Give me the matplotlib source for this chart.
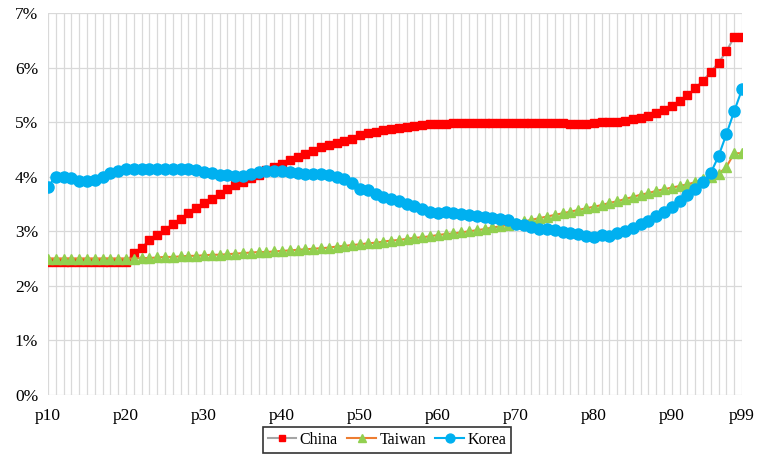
import numpy as np
import matplotlib.pyplot as plt
from matplotlib.ticker import FuncFormatter, MultipleLocator

plt.rcParams['font.family'] = ['Liberation Serif', 'DejaVu Serif']

# percentiles p10..p99
pct = np.arange(10, 100)
xticks = [10, 20, 30, 40, 50, 60, 70, 80, 90, 99]

china = [2.43, 2.43, 2.43, 2.43, 2.43, 2.43, 2.43, 2.43, 2.43, 2.43,
         2.43, 2.60, 2.70, 2.84, 2.93, 3.03, 3.13, 3.23, 3.33, 3.42,
         3.51, 3.60, 3.68, 3.77, 3.85, 3.91, 3.97, 4.04, 4.12, 4.18,
         4.24, 4.30, 4.36, 4.41, 4.47, 4.54, 4.58, 4.61, 4.66, 4.70,
         4.76, 4.80, 4.82, 4.85, 4.87, 4.90, 4.91, 4.93, 4.95, 4.96,
         4.97, 4.97, 4.98, 4.98, 4.99, 4.99, 4.99, 4.99, 4.99, 4.99,
         4.99, 4.99, 4.99, 4.99, 4.99, 4.99, 4.99, 4.97, 4.97, 4.97,
         4.98, 5.00, 5.00, 5.01, 5.02, 5.05, 5.08, 5.11, 5.16, 5.23,
         5.30, 5.39, 5.49, 5.62, 5.76, 5.92, 6.09, 6.30, 6.56, 6.56]

taiwan = [2.50, 2.50, 2.50, 2.50, 2.50, 2.50, 2.50, 2.50, 2.50, 2.50,
          2.50, 2.50, 2.51, 2.51, 2.52, 2.53, 2.53, 2.54, 2.55, 2.55,
          2.56, 2.57, 2.57, 2.58, 2.59, 2.60, 2.61, 2.62, 2.62, 2.63,
          2.64, 2.65, 2.66, 2.67, 2.68, 2.69, 2.70, 2.72, 2.73, 2.75,
          2.76, 2.78, 2.79, 2.81, 2.83, 2.84, 2.86, 2.88, 2.89, 2.91,
          2.93, 2.95, 2.96, 2.98, 3.00, 3.02, 3.04, 3.07, 3.09, 3.12,
          3.15, 3.18, 3.21, 3.24, 3.27, 3.30, 3.33, 3.36, 3.39, 3.42,
          3.45, 3.48, 3.52, 3.55, 3.59, 3.63, 3.67, 3.70, 3.74, 3.77,
          3.80, 3.83, 3.86, 3.90, 3.95, 4.00, 4.05, 4.18, 4.43, 4.43]

korea = [3.82, 4.00, 3.99, 3.97, 3.93, 3.92, 3.94, 4.00, 4.07, 4.11,
         4.15, 4.15, 4.14, 4.14, 4.14, 4.14, 4.14, 4.15, 4.14, 4.12,
         4.09, 4.06, 4.04, 4.03, 4.01, 4.01, 4.05, 4.08, 4.10, 4.10,
         4.10, 4.08, 4.06, 4.05, 4.05, 4.05, 4.03, 4.00, 3.95, 3.88,
         3.78, 3.75, 3.69, 3.63, 3.60, 3.55, 3.50, 3.46, 3.40, 3.36,
         3.34, 3.35, 3.34, 3.32, 3.30, 3.28, 3.27, 3.25, 3.22, 3.20,
         3.14, 3.11, 3.08, 3.04, 3.04, 3.02, 2.99, 2.97, 2.95, 2.92,
         2.90, 2.93, 2.92, 2.96, 3.01, 3.06, 3.13, 3.19, 3.28, 3.36,
         3.45, 3.55, 3.67, 3.77, 3.90, 4.07, 4.38, 4.78, 5.20, 5.60]

fig = plt.figure(figsize=(7.57, 4.57), dpi=100)
ax = fig.add_axes([48/757, 62/457, 694/757, 382/457])

ax.plot(pct, china, color='#a5a5a5', lw=1.5, marker='s', ms=6,
        mfc='#ff0000', mec='#ff0000', label='China', zorder=3)
ax.plot(pct, taiwan, color='#ed7d31', lw=1.5, marker='^', ms=7,
        mfc='#92d050', mec='#92d050', label='Taiwan', zorder=4)
ax.plot(pct, korea, color='#00b0f0', lw=1.5, marker='o', ms=8,
        mfc='#00b0f0', mec='#00b0f0', label='Korea', zorder=5)

ax.set_xlim(10, 99)
ax.set_ylim(0, 7)
ax.yaxis.set_major_locator(MultipleLocator(1))
ax.yaxis.set_major_formatter(FuncFormatter(lambda v, _: f'{v:.0f}%'))
ax.set_xticks(xticks)
ax.set_xticklabels([f'p{t}' for t in xticks])

# light grid: one vertical line per percentile
for p in pct:
    ax.axvline(p, color='#d9d9d9', lw=0.9, zorder=1)
for v in range(0, 8):
    ax.axhline(v, color='#d9d9d9', lw=0.9, zorder=1)

for s in ax.spines.values():
    s.set_visible(False)
ax.tick_params(length=0, labelsize=12.5)
ax.tick_params(axis='x', pad=9)
ax.tick_params(axis='y', pad=7)

leg = fig.legend(loc='center', bbox_to_anchor=(387/757, 1 - 440/457),
                 ncol=3, fontsize=11.5, frameon=True, fancybox=False,
                 edgecolor='black', handlelength=1.8, handletextpad=0.2,
                 columnspacing=0.6, borderpad=0.3, markerscale=0.8)
leg.get_frame().set_linewidth(1.2)

fig.savefig('out.png', dpi=100)
